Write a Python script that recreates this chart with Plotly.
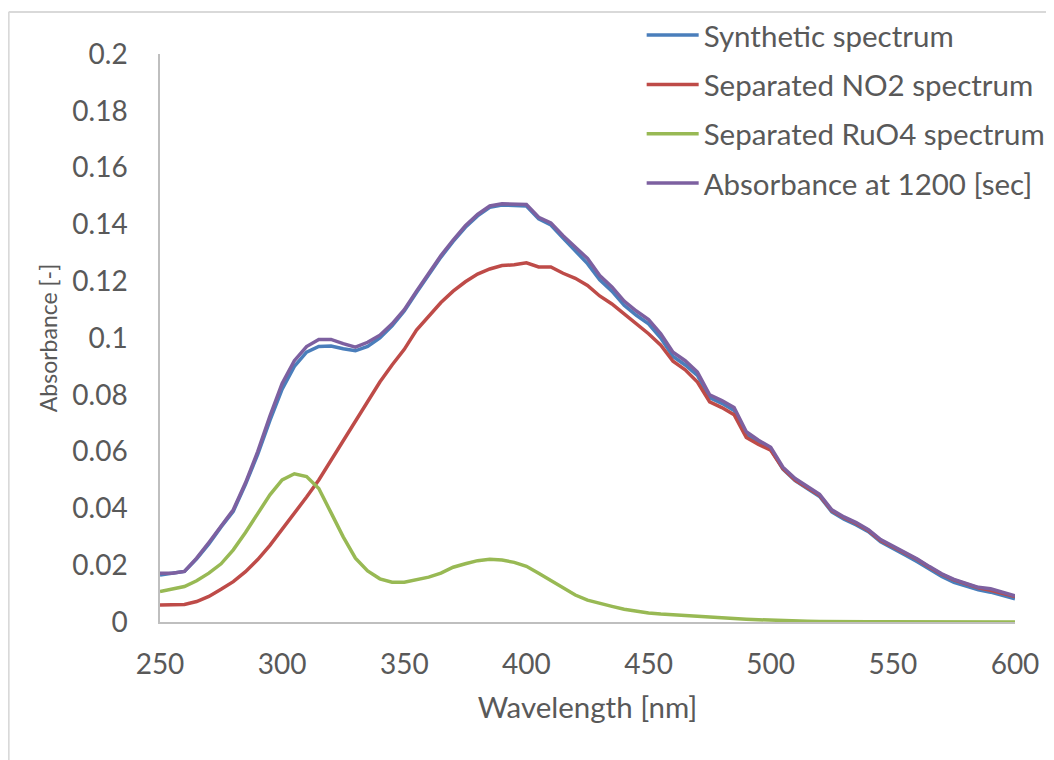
import plotly.graph_objects as go

wavelength = list(range(250, 601, 5))

synthetic = [0.0165, 0.0170, 0.0178, 0.0222, 0.0275, 0.0335, 0.0390, 0.0485, 0.0590, 0.0710,
             0.0820, 0.0900, 0.0950, 0.0970, 0.0972, 0.0962, 0.0955, 0.0970, 0.1000, 0.1043,
             0.1095, 0.1160, 0.1225, 0.1285, 0.1340, 0.1390, 0.1430, 0.1460, 0.1468, 0.1466,
             0.1465, 0.1420, 0.1398, 0.1352, 0.1308, 0.1262, 0.1205, 0.1165, 0.1115, 0.1080,
             0.1050, 0.1000, 0.0935, 0.0905, 0.0868, 0.0790, 0.0770, 0.0745, 0.0662, 0.0633,
             0.0608, 0.0538, 0.0498, 0.0470, 0.0442, 0.0388, 0.0362, 0.0342, 0.0318, 0.0282,
             0.0260, 0.0236, 0.0212, 0.0185, 0.0160, 0.0140, 0.0126, 0.0113, 0.0105, 0.0095,
             0.0082]

no2 = [0.0060, 0.0060, 0.0062, 0.0072, 0.0090, 0.0115, 0.0142, 0.0177, 0.0220, 0.0270,
       0.0325, 0.0380, 0.0440, 0.0500, 0.0570, 0.0640, 0.0710, 0.0775, 0.0845, 0.0905,
       0.0960, 0.1028, 0.1075, 0.1125, 0.1165, 0.1198, 0.1225, 0.1243, 0.1255, 0.1258,
       0.1265, 0.1250, 0.1250, 0.1228, 0.1210, 0.1185, 0.1148, 0.1120, 0.1085, 0.1050,
       0.1015, 0.0975, 0.0918, 0.0888, 0.0845, 0.0775, 0.0755, 0.0730, 0.0650, 0.0625,
       0.0605, 0.0540, 0.0500, 0.0473, 0.0446, 0.0392, 0.0367, 0.0347, 0.0322, 0.0287,
       0.0265, 0.0242, 0.0220, 0.0193, 0.0168, 0.0148, 0.0133, 0.0120, 0.0112, 0.0102,
       0.0090]

ruo4 = [0.0107, 0.0115, 0.0125, 0.0145, 0.0172, 0.0205, 0.0254, 0.0315, 0.0380, 0.0448,
        0.0500, 0.0522, 0.0512, 0.0470, 0.0385, 0.0300, 0.0225, 0.0180, 0.0152, 0.0140,
        0.0140, 0.0148, 0.0158, 0.0172, 0.0193, 0.0205, 0.0216, 0.0221, 0.0218, 0.0210,
        0.0196, 0.0172, 0.0146, 0.0120, 0.0095, 0.0077, 0.0065, 0.0055, 0.0045, 0.0038,
        0.0032, 0.0028, 0.0025, 0.0022, 0.0020, 0.0018, 0.0016, 0.0013, 0.0010, 0.0008,
        0.0006, 0.0005, 0.0004, 0.0003, 0.0002, 0.0001, 0.0001, 0.0001, 0.0001, 0.0001,
        0.0001, 0.0000, 0.0000, 0.0000, 0.0000, 0.0000, 0.0000, 0.0000, 0.0000, 0.0000,
        0.0000]

absorbance_1200 = [0.0172, 0.0172, 0.0178, 0.0225, 0.0280, 0.0340, 0.0395, 0.0490, 0.0600, 0.0725,
                   0.0840, 0.0920, 0.0970, 0.0995, 0.0995, 0.0980, 0.0968, 0.0985, 0.1010, 0.1050,
                   0.1100, 0.1165, 0.1230, 0.1290, 0.1345, 0.1395, 0.1435, 0.1465, 0.1473, 0.1470,
                   0.1470, 0.1425, 0.1405, 0.1360, 0.1320, 0.1280, 0.1220, 0.1180, 0.1130, 0.1095,
                   0.1065, 0.1015, 0.0950, 0.0920, 0.0880, 0.0800, 0.0780, 0.0755, 0.0670, 0.0640,
                   0.0615, 0.0545, 0.0505, 0.0478, 0.0450, 0.0395, 0.0370, 0.0350, 0.0325, 0.0290,
                   0.0268, 0.0245, 0.0222, 0.0195, 0.0170, 0.0150, 0.0135, 0.0122, 0.0117, 0.0105,
                   0.0092]

series_names = ["Synthetic spectrum", "Separated NO2 spectrum",
                "Separated RuO4 spectrum", "Absorbance at 1200 [sec]"]
series_values = [synthetic, no2, ruo4, absorbance_1200]
series_colors = ["#4A7EBB", "#BE4B48", "#98B954", "#7D60A0"]

FONT = "Lato"
GREY = "#595959"

fig = go.Figure()
for i, (name, vals, col) in enumerate(zip(series_names, series_values, series_colors)):
    fig.add_trace(go.Scatter(
        x=wavelength, y=vals, mode="lines", name=name,
        line=dict(color=col, width=3.5),
        legendgroup=f"g{i}",
    ))

fig.update_layout(
    width=1046, height=752,
    margin=dict(l=152, r=39, t=46, b=138, autoexpand=False),
    paper_bgcolor="white", plot_bgcolor="white",
    font=dict(family=FONT, size=28, color=GREY),
    showlegend=True,
    legend=dict(
        xref="container", yref="container",
        x=0.6058, y=0.9982, xanchor="left", yanchor="top",
        bgcolor="rgba(0,0,0,0)",
        font=dict(family=FONT, size=29.5, color=GREY),
        tracegroupgap=8,
        traceorder="grouped",
        itemwidth=52,
    ),
    xaxis=dict(
        range=[250, 600], dtick=50, tick0=250, automargin=False,
        showgrid=False, zeroline=False,
        showline=True, linecolor="#BFBFBF", linewidth=1.5,
        ticks="", ticklabelstandoff=17,
        tickfont=dict(family=FONT, size=28, color=GREY),
        title=dict(text="Wavelength [nm]", font=dict(family=FONT, size=29.5, color=GREY), standoff=18),
    ),
    yaxis=dict(
        range=[0, 0.2], dtick=0.02, tick0=0, automargin=False,
        showgrid=False, zeroline=False,
        showline=True, linecolor="#BFBFBF", linewidth=1.5,
        ticks="", ticklabelstandoff=25,
        tickfont=dict(family=FONT, size=28, color=GREY),
        title=dict(text="Absorbance [-]", font=dict(family=FONT, size=23, color=GREY), standoff=8),
    ),
    shapes=[
        dict(type="line", xref="paper", yref="paper", x0=-0.177, x1=1.1, y0=1.074, y1=1.074,
             line=dict(color="#D9D9D9", width=2)),
        dict(type="line", xref="paper", yref="paper", x0=-0.177, x1=-0.177, y0=1.074, y1=-0.3,
             line=dict(color="#D9D9D9", width=2)),
    ],
)

fig.write_html("out.html")
